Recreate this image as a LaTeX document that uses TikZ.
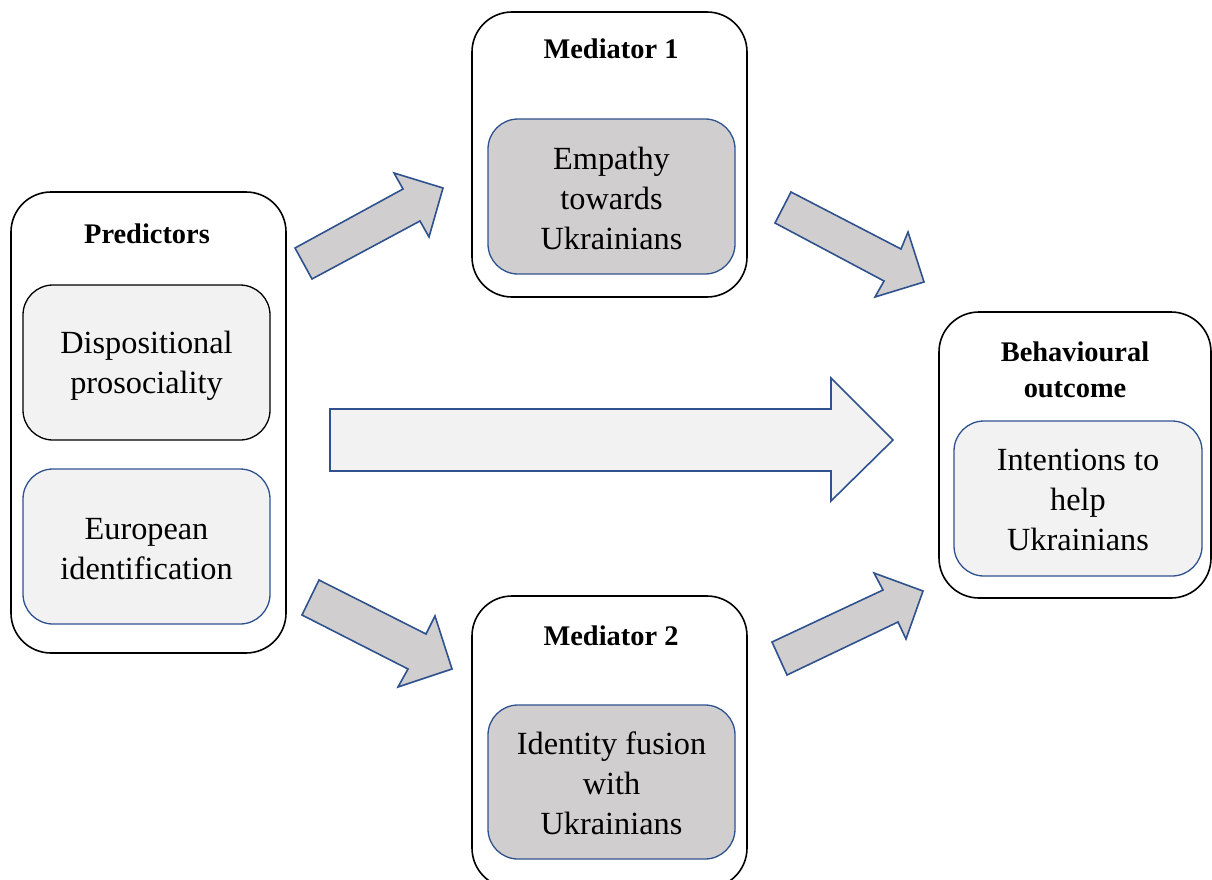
\documentclass[tikz,border=0pt]{standalone}
\usepackage{fontspec}
\setmainfont{Liberation Serif}
\definecolor{boxblue}{HTML}{2F528F}
\definecolor{darkfill}{HTML}{D0CECE}
\definecolor{lightfill}{HTML}{F2F2F2}
\begin{document}
\begin{tikzpicture}[x=1pt,y=-1pt,
  outerbox/.style={draw=black, line width=1.6pt, rounded corners=40pt, inner sep=0pt},
  innerbox/.style={line width=1.3pt, rounded corners=30pt, inner sep=0pt,
    minimum width=247pt, minimum height=155pt},
  boxtext/.style={inner sep=0pt, align=center, font=\fontsize{32.3}{40}\selectfont},
  title/.style={font=\fontsize{28.4}{36}\selectfont\bfseries, anchor=base, inner sep=0pt},
  blockarrow/.style={draw=boxblue, line width=1.6pt, line join=miter}]
\clip (0,0) rectangle (1212,880);
\useasboundingbox (0,0) rectangle (1212,880);
% outer boxes
\node[outerbox, minimum width=275pt, minimum height=461pt] (pred) at (148.5,422.5) {};
\node[outerbox, minimum width=275pt, minimum height=285pt] (med1) at (609.5,154.5) {};
\node[outerbox, minimum width=275pt, minimum height=292pt] (med2) at (609.5,742) {};
\node[outerbox, minimum width=272pt, minimum height=286pt] (beh) at (1075,455) {};
% titles
\node[title] (tpred) at (147,243) {Predictors};
\node[title] (tmed1) at (611,59) {Mediator 1};
\node[title] (tmed2) at (611,645) {Mediator 2};
\node[title] (tbeh1) at (1075,361) {Behavioural};
\node[title] (tbeh2) at (1075,397) {outcome};
% inner boxes
\node[innerbox, draw=black, fill=lightfill] (disp) at (146.5,362.5) {};
\node[innerbox, draw=boxblue, fill=lightfill] (euro) at (146.5,546.5) {};
\node[innerbox, draw=boxblue, fill=darkfill] (emp) at (611.5,196.5) {};
\node[innerbox, draw=boxblue, fill=darkfill, minimum height=154pt] (fus) at (611.5,782) {};
\node[innerbox, draw=boxblue, fill=lightfill, minimum width=248pt] (int) at (1078,498.5) {};
% texts of inner boxes
\node[boxtext] (tdisp) at ([yshift=-3pt]disp.center) {Dispositional\\prosociality};
\node[boxtext] (teuro) at ([yshift=-3pt]euro.center) {European\\identification};
\node[boxtext] (temp) at ([yshift=-1.5pt]emp.center) {Empathy\\towards\\Ukrainians};
\node[boxtext] (tfus) at ([yshift=-1.5pt]fus.center) {Identity fusion\\with\\Ukrainians};
\node[boxtext] (tint) at ([yshift=-1.5pt]int.center) {Intentions to\\help\\Ukrainians};
% block arrows
\draw[blockarrow, fill=darkfill] (295,248) -- (403,189) -- (394,173) -- (443,188) -- (429,237) -- (420,221) -- (312,279) -- cycle;
\draw[blockarrow, fill=darkfill] (791,192) -- (901,249) -- (908,232) -- (924,282) -- (875,297) -- (884,281) -- (775,223) -- cycle;
\draw[blockarrow, fill=darkfill] (319,580) -- (426,634) -- (435,616) -- (452,669) -- (398,687) -- (408,669) -- (302,615) -- cycle;
\draw[blockarrow, fill=darkfill] (772,642) -- (883,590) -- (874,573) -- (923,591) -- (906,639) -- (898,622) -- (787,675) -- cycle;
\draw[blockarrow, fill=lightfill] (330,409) -- (831,409) -- (831,378) -- (893,440) -- (831,501) -- (831,471) -- (330,471) -- cycle;
\end{tikzpicture}
\end{document}
